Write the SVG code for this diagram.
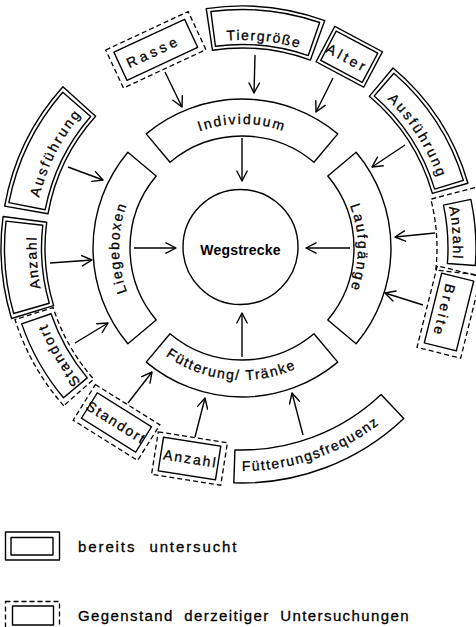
<svg xmlns="http://www.w3.org/2000/svg" width="476" height="627" viewBox="0 0 476 627">
<defs>
<style>
.s{fill:none;stroke:#000;stroke-width:1.4;stroke-linejoin:round}
.d{fill:none;stroke:#000;stroke-width:1.3;stroke-dasharray:5 3}
.c{fill:none;stroke:#000;stroke-width:1.4}
text{font-family:"Liberation Sans",Arial,sans-serif;font-size:14px;fill:#000;stroke:#000;stroke-width:0.3}
.w{font-weight:bold;font-size:14px;letter-spacing:0.2px;stroke-width:0}
.lg{font-size:15px}
</style>
<marker id="ah" markerUnits="userSpaceOnUse" markerWidth="12" markerHeight="12" viewBox="0 0 12 12" refX="11" refY="6" orient="auto">
<path d="M1,0.8 L11,6 L1,11.2" fill="none" stroke="#000" stroke-width="1.4" stroke-linecap="round" stroke-linejoin="round"/>
</marker>
<path id="pInd" d="M134.62,186 A124,124 0 0 1 349.38,186"/>
<path id="pLauf" d="M300,147.54 A116,116 0 0 1 300,348.46"/>
<path id="pLieg" d="M180.5,354.52 A123,123 0 0 1 180.5,141.48"/>
<path id="pFut" d="M127.68,314 A132,132 0 0 0 356.32,314"/>
<path id="pTier" d="M125.69,75.57 A208,208 0 0 1 391.61,103.50"/>
<path id="pAusR" d="M304.55,49.63 A208,208 0 0 1 448.21,275.14"/>
<path id="pAnzR" d="M393.77,101.42 A211,211 0 0 1 412.70,372.03"/>
<path id="pAusL" d="M38.35,295.03 A209,209 0 0 1 160.34,55.62"/>
<path id="pAnzL" d="M94.18,390.76 A205.5,205.5 0 0 1 75.75,127.21"/>
<path id="pStL" d="M171.38,445.24 A209.5,209.5 0 0 1 35.50,212.70"/>
<path id="pFF" d="M162.46,456.33 A223,223 0 0 0 433.36,362.51"/>
</defs>
<rect width="476" height="627" fill="#fff"/>

<g id="wegstrecke">
<circle class="s" cx="240.5" cy="247" r="57.5"/>
<text class="w" x="240.5" y="255" text-anchor="middle">Wegstrecke</text>
</g>

<g id="individuum">
<path class="s" d="M146.22,133.87 A149,149 0 0 1 337.78,133.87 L313.99,162.21 A112,112 0 0 0 170.01,162.21 Z"/>
<text letter-spacing="1.9"><textPath href="#pInd" startOffset="50%" text-anchor="middle">Individuum</textPath></text>
</g>

<g id="laufgaenge">
<path class="s" d="M356.13,152.22 A149,149 0 0 1 356.13,343.78 L327.79,319.99 A112,112 0 0 0 327.79,176.01 Z"/>
<text letter-spacing="2.3"><textPath href="#pLauf" startOffset="50%" text-anchor="middle">Laufgänge</textPath></text>
</g>

<g id="fuetterung">
<path class="s" d="M337.78,362.13 A149,149 0 0 1 146.22,362.13 L170.01,333.79 A112,112 0 0 0 313.99,333.79 Z"/>
<text letter-spacing="1.6"><textPath href="#pFut" startOffset="45.5%" text-anchor="middle">Fütterung/ Tränke</textPath></text>
</g>

<g id="liegeboxen">
<path class="s" d="M127.87,343.78 A149,149 0 0 1 127.87,152.22 L156.21,176.01 A112,112 0 0 0 156.21,319.99 Z"/>
<text letter-spacing="1.7"><textPath href="#pLieg" startOffset="50%" text-anchor="middle">Liegeboxen</textPath></text>
</g>

<g id="rasse" transform="translate(155.8,49.8) rotate(-25)">
<rect class="d" x="-45.5" y="-21" width="91" height="42"/>
<rect class="s" x="-39" y="-15.5" width="78" height="31"/>
<text x="-3" y="5.5" text-anchor="middle" letter-spacing="3.6">Rasse</text>
</g>

<g id="tiergroesse">
<path class="s" d="M206.23,8.66 A242,242 0 0 1 324.76,20.59 L310.40,60.06 A200,200 0 0 0 212.44,50.20 Z"/>
<path class="s" d="M210.88,11.55 A238.5,238.5 0 0 1 319.66,22.50 L308.26,55.59 A203.5,203.5 0 0 0 215.44,46.25 Z"/>
<text letter-spacing="1.5"><textPath href="#pTier" startOffset="50%" text-anchor="middle">Tiergröße</textPath></text>
</g>

<g id="alter" transform="translate(349.25,56.75) rotate(28)">
<rect class="s" x="-27" y="-20" width="54" height="40"/>
<rect class="s" x="-23.5" y="-16.5" width="47" height="33"/>
<text x="-1" y="7" text-anchor="middle" letter-spacing="3.3">Alter</text>
</g>

<g id="ausfuehrung-rechts">
<path class="s" d="M393.06,67.99 A235,235 0 0 1 467.91,183.23 L432.34,193.43 A198,198 0 0 0 369.27,96.33 Z"/>
<path class="s" d="M393.89,73.29 A231.5,231.5 0 0 1 463.38,180.31 L434.69,189.08 A201.5,201.5 0 0 0 374.20,95.93 Z"/>
<text letter-spacing="2.4"><textPath href="#pAusR" startOffset="50%" text-anchor="middle">Ausführung</textPath></text>
</g>

<g id="anzahl-rechts">
<path class="d" d="M482.09,185.90 A248,248 0 0 1 488.41,276.07 L435.75,270.07 A195,195 0 0 0 430.78,199.17 Z"/>
<path class="s" d="M470.88,199.35 A234,234 0 0 1 475.34,265.55 L447.42,263.45 A206,206 0 0 0 443.49,205.17 Z"/>
<text letter-spacing="1.7"><textPath href="#pAnzR" startOffset="50%" text-anchor="middle">Anzahl</textPath></text>
</g>

<g id="breite" transform="translate(449,312) rotate(104)">
<rect class="d" x="-42" y="-22.5" width="84" height="45"/>
<rect class="s" x="-36" y="-16.5" width="72" height="33"/>
<text x="0" y="10" text-anchor="middle" letter-spacing="3">Breite</text>
</g>

<g id="fuetterungsfrequenz">
<path class="s" d="M403.77,418.47 A235,235 0 0 1 233.80,482.86 L234.95,449.88 A202,202 0 0 0 381.06,394.53 Z"/>
<text letter-spacing="1.5"><textPath href="#pFF" startOffset="50%" text-anchor="middle">Fütterungsfrequenz</textPath></text>
</g>

<g id="anzahl-unten" transform="translate(189.5,458.5) rotate(9)">
<rect class="d" x="-35" y="-21.5" width="70" height="43"/>
<rect class="s" x="-29" y="-17" width="58" height="34"/>
<text x="1" y="5" text-anchor="middle" letter-spacing="2">Anzahl</text>
</g>

<g id="standort-unten" transform="translate(116.5,422.5) rotate(32)">
<rect class="d" x="-38" y="-21" width="76" height="42"/>
<rect class="s" x="-32" y="-15" width="64" height="30"/>
<text x="0" y="5" text-anchor="middle" letter-spacing="1.9">Standort</text>
</g>

<g id="standort-links">
<path class="d" d="M63.74,405.70 A238,238 0 0 1 15.02,319.57 L53.17,307.54 A198,198 0 0 0 93.70,379.19 Z"/>
<path class="s" d="M63.52,397.77 A233,233 0 0 1 21.70,323.86 L51.01,313.77 A202,202 0 0 0 87.27,377.85 Z"/>
<text letter-spacing="2"><textPath href="#pStL" startOffset="50%" text-anchor="middle">Standort</textPath></text>
</g>

<g id="anzahl-links">
<path class="s" d="M11.53,318.47 A241,241 0 0 1 3.07,216.55 L46.69,222.29 A197,197 0 0 0 53.61,305.60 Z"/>
<path class="s" d="M13.69,313.46 A237.5,237.5 0 0 1 6.02,221.11 L42.78,225.30 A200.5,200.5 0 0 0 49.26,303.26 Z"/>
<text letter-spacing="1.6"><textPath href="#pAnzL" startOffset="50%" text-anchor="middle">Anzahl</textPath></text>
</g>

<g id="ausfuehrung-links">
<path class="s" d="M4.66,206.16 A241,241 0 0 1 62.91,86.75 L95.61,116.19 A197,197 0 0 0 47.99,213.80 Z"/>
<path class="s" d="M8.87,202.68 A237.5,237.5 0 0 1 62.76,92.18 L90.68,116.45 A200.5,200.5 0 0 0 45.19,209.74 Z"/>
<text letter-spacing="2.4"><textPath href="#pAusL" startOffset="50%" text-anchor="middle">Ausführung</textPath></text>
</g>

<g id="connectors" class="c" marker-end="url(#ah)">
<line x1="165" y1="72" x2="182" y2="107"/>
<line x1="255" y1="55" x2="254" y2="93"/>
<line x1="333" y1="78" x2="316" y2="112"/>
<line x1="242" y1="138" x2="242" y2="181"/>
<line x1="134" y1="248" x2="176" y2="248"/>
<line x1="350" y1="248" x2="306" y2="248"/>
<line x1="242" y1="357" x2="242" y2="313"/>
<line x1="68" y1="167" x2="103" y2="180"/>
<line x1="50" y1="263" x2="92" y2="260"/>
<line x1="75" y1="343" x2="108" y2="323"/>
<line x1="128" y1="403" x2="152" y2="372"/>
<line x1="195" y1="437" x2="205" y2="398"/>
<line x1="303" y1="435" x2="292" y2="393"/>
<line x1="423" y1="305" x2="385" y2="293"/>
<line x1="435" y1="233" x2="395" y2="237"/>
<line x1="405" y1="145" x2="372" y2="167"/>
</g>

<g id="legende-untersucht">
<rect class="s" x="5.5" y="532" width="54" height="28"/>
<rect class="s" x="11" y="537.5" width="42" height="17.5"/>
<text class="lg" x="78" y="552" letter-spacing="1.9" word-spacing="7">bereits untersucht</text>
</g>

<g id="legende-derzeitig">
<rect class="d" x="5.5" y="601.5" width="54" height="35"/>
<rect class="s" x="12.5" y="606" width="41" height="19"/>
<text class="lg" x="78" y="621" letter-spacing="1.4" word-spacing="5">Gegenstand derzeitiger Untersuchungen</text>
</g>
</svg>
